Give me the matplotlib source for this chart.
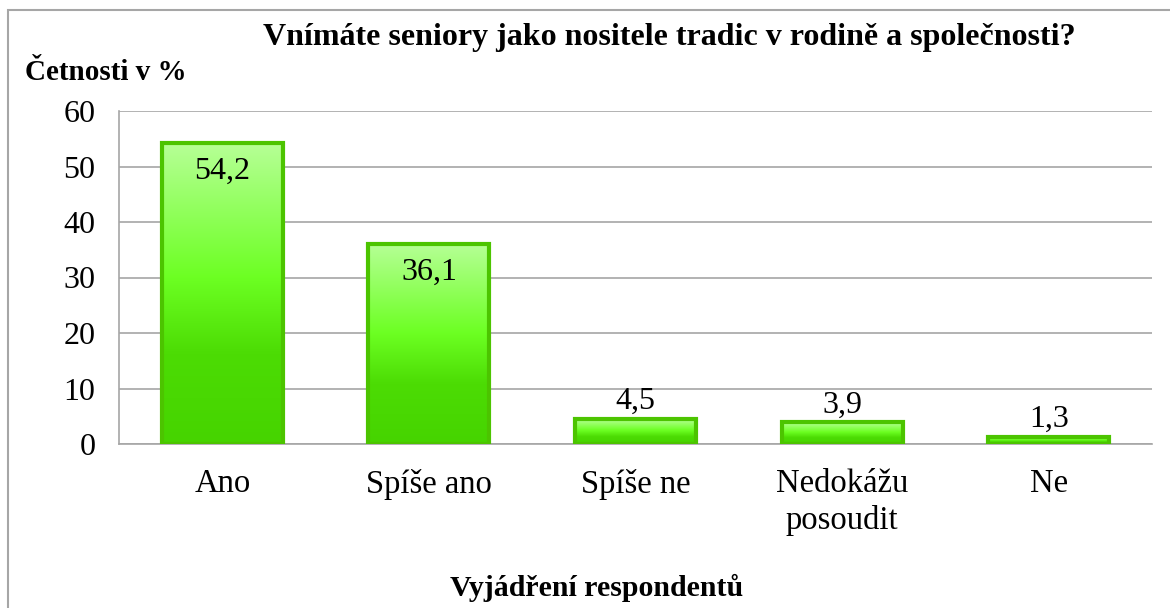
import numpy as np
import matplotlib
matplotlib.use("Agg")
import matplotlib.pyplot as plt
from matplotlib.colors import LinearSegmentedColormap
from matplotlib.patches import Rectangle

plt.rcParams['font.family'] = ['Liberation Serif', 'DejaVu Serif']

categories = ["Ano", "Spíše ano", "Spíše ne", "Nedokážu\nposoudit", "Ne"]
values = [54.2, 36.1, 4.5, 3.9, 1.3]
labels = ["54,2", "36,1", "4,5", "3,9", "1,3"]
yticks = [0, 10, 20, 30, 40, 50, 60]

title = "Vnímáte seniory jako nositele tradic v rodině a společnosti?"
ylabel = "Četnosti v %"
xlabel = "Vyjádření respondentů"

grey = "#a6a6a6"
# light at top, bright green in the middle, darker green at the bottom
green = LinearSegmentedColormap.from_list(
    "green", [(0.0, "#46d400"), (0.3, "#4cdc04"), (0.55, "#6cff22"), (1.0, "#b6ff96")])

fig = plt.figure(figsize=(11.7, 6.08), dpi=100)
ax = fig.add_axes([119 / 1170, 1 - 444 / 608, (1152 - 119) / 1170, (444 - 111) / 608])

x = np.arange(len(categories))
bars = ax.bar(x, values, width=0.585, color="none", edgecolor="#4cc400",
              linewidth=3.0, zorder=3)

grad = np.linspace(0, 1, 256).reshape(-1, 1)
for b in bars:
    x0, w, h = b.get_x(), b.get_width(), b.get_height()
    im = ax.imshow(grad, cmap=green, origin="lower", aspect="auto",
                   extent=[x0, x0 + w, 0, h], zorder=2)
    im.set_clip_path(b)

for xi, v, lab in zip(x, values, labels):
    if v > 10:
        ax.annotate(lab, (xi, v), xytext=(0, -10), textcoords="offset points",
                    ha="center", va="top", fontsize=23, zorder=4)
    else:
        ax.annotate(lab, (xi, v), xytext=(0, 2), textcoords="offset points",
                    ha="center", va="bottom", fontsize=23, zorder=4)

ax.set_xlim(-0.5, len(categories) - 0.5)
ax.set_ylim(0, 60)
ax.set_yticks(yticks)
ax.set_xticks(x)
ax.set_xticklabels(categories, fontsize=23.5, linespacing=1.25)
ax.tick_params(axis="y", labelsize=23, length=0, pad=17)
ax.tick_params(axis="x", length=0, pad=18)
ax.yaxis.grid(True, color=grey, linewidth=1.2)
ax.set_axisbelow(True)
for s in ["top", "right"]:
    ax.spines[s].set_visible(False)
for s in ["left", "bottom"]:
    ax.spines[s].set_color(grey)
    ax.spines[s].set_linewidth(1.2)

fig.text(669 / 1170, 1 - 38 / 608, title, ha="center", va="center",
         fontsize=23, fontweight="bold")
fig.text(25 / 1170, 1 - 72 / 608, ylabel, ha="left", va="center",
         fontsize=21, fontweight="bold")
fig.text(597 / 1170, 1 - 588 / 608, xlabel, ha="center", va="center",
         fontsize=21.5, fontweight="bold")

fig.patches.append(Rectangle((8 / 1170, -0.1), 1.2, 1.1 - 10 / 608,
                             transform=fig.transFigure, fill=False,
                             edgecolor=grey, linewidth=1.5))

fig.savefig("out.png", dpi=100)
